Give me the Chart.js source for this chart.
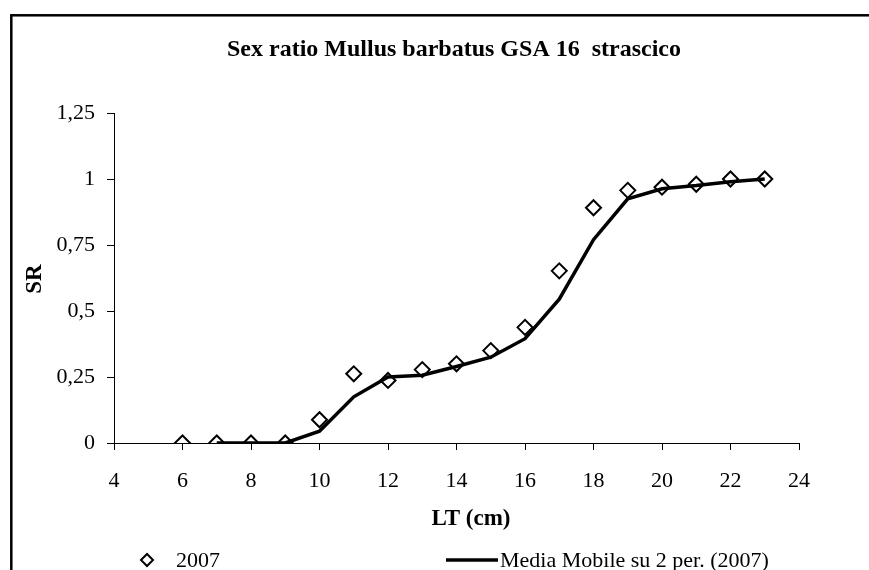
<!DOCTYPE html>
<html>
<head>
<meta charset="utf-8">
<script src="https://cdn.jsdelivr.net/npm/chart.js@4/dist/chart.umd.min.js"></script>
<style>
    body { margin: 0; background: #fff; }
    #wrap { width: 869px; height: 570px; }
</style>
</head>
<body>
<div id="wrap"><canvas id="srChart" width="869" height="570"></canvas></div>
<script>
// LT (cm) classes and sex ratio
const lengths = [6, 7, 8, 9, 10, 11, 12, 13, 14, 15, 16, 17, 18, 19, 20, 21, 22, 23];
const ratio2007 = [0, 0, 0, 0, 0.088, 0.262, 0.237, 0.278, 0.30, 0.35, 0.438, 0.652, 0.891, 0.957, 0.969, 0.98, 1.0, 1.0];
// moving average (2 per.) line, starts at 7 cm
const avgLengths = [7, 8, 9, 10, 11, 12, 13, 14, 15, 16, 17, 18, 19, 20, 21, 22, 23];
const avg2007 = [0, 0, 0, 0.045, 0.175, 0.25, 0.257, 0.29, 0.325, 0.395, 0.545, 0.77, 0.925, 0.963, 0.975, 0.99, 1.0];
const xTicks = [4, 6, 8, 10, 12, 14, 16, 18, 20, 22, 24];
const yTicks = [0, 0.25, 0.5, 0.75, 1, 1.25];

const titleText = "Sex ratio Mullus barbatus GSA 16  strascico";
const xTitle = "LT (cm)";
const yTitle = "SR";
const legendLabels = ["2007", "Media Mobile su 2 per. (2007)"];

const serif = "'Liberation Serif', 'Times New Roman', serif";

// frame, titles and legend
const decorations = {
    id: "decorations",
    beforeDraw(chart) {
        const ctx = chart.ctx;
        ctx.save();
        ctx.strokeStyle = "#000";
        ctx.lineWidth = 2.5;
        ctx.strokeRect(11.3, 15.3, 1000, 1000);
        ctx.restore();
    },
    afterDraw(chart) {
        const ctx = chart.ctx;
        ctx.save();
        ctx.fillStyle = "#000";
        ctx.textBaseline = "middle";
        ctx.textAlign = "center";

        ctx.font = "bold 24px " + serif;
        ctx.fillText(titleText, 454, 50);

        ctx.font = "bold 23px " + serif;
        ctx.fillText(xTitle, 471, 519);

        ctx.save();
        ctx.translate(35, 279);
        ctx.rotate(-Math.PI / 2);
        ctx.fillText(yTitle, 0, 0);
        ctx.restore();

        // legend
        ctx.font = "22px " + serif;
        ctx.textAlign = "left";
        ctx.strokeStyle = "#000";
        ctx.lineWidth = 2;
        ctx.beginPath();
        ctx.moveTo(141, 560);
        ctx.lineTo(147, 554);
        ctx.lineTo(153, 560);
        ctx.lineTo(147, 566);
        ctx.closePath();
        ctx.stroke();
        ctx.fillText(legendLabels[0], 176, 561);

        ctx.lineWidth = 3.5;
        ctx.beginPath();
        ctx.moveTo(446, 560);
        ctx.lineTo(498, 560);
        ctx.stroke();
        ctx.fillText(legendLabels[1], 500, 561);
        ctx.restore();
    }
};

const commaFmt = (v) => String(v).replace(".", ",");

new Chart(document.getElementById("srChart"), {
    type: "scatter",
    data: {
        datasets: [
            {
                label: legendLabels[0],
                data: lengths.map((x, i) => ({ x: x, y: ratio2007[i] })),
                pointStyle: "rectRot",
                pointRadius: 7.5,
                pointBorderWidth: 2,
                pointBorderColor: "#000",
                pointBackgroundColor: "#fff",
                showLine: false,
                order: 1,
            },
            {
                label: legendLabels[1],
                data: avgLengths.map((x, i) => ({ x: x, y: avg2007[i] })),
                showLine: true,
                borderColor: "#000",
                borderWidth: 3.5,
                pointRadius: 0,
                tension: 0,
                order: 0,
            },
        ],
    },
    options: {
        responsive: false,
        animation: false,
        layout: { padding: { top: 113, right: 70, left: 0, bottom: 0 } },
        plugins: {
            legend: { display: false },
            title: { display: false },
            tooltip: { enabled: false },
        },
        scales: {
            x: {
                type: "linear",
                min: 4,
                max: 24,
                afterBuildTicks: (axis) => { axis.ticks = xTicks.map((v) => ({ value: v })); },
                afterFit: (axis) => { axis.height = 127; },
                ticks: {
                    color: "#000",
                    padding: 18,
                    font: { family: serif, size: 22 },
                    callback: commaFmt,
                },
                grid: { drawOnChartArea: false, color: "#000", tickLength: 7 },
                border: { color: "#000", width: 1 },
            },
            y: {
                type: "linear",
                min: 0,
                max: 1.25,
                afterBuildTicks: (axis) => { axis.ticks = yTicks.map((v) => ({ value: v })); },
                afterFit: (axis) => { axis.width = 114; },
                ticks: {
                    color: "#000",
                    padding: 12,
                    font: { family: serif, size: 22 },
                    callback: commaFmt,
                },
                grid: { drawOnChartArea: false, color: "#000", tickLength: 7 },
                border: { color: "#000", width: 1 },
            },
        },
    },
    plugins: [decorations],
});
</script>
</body>
</html>
